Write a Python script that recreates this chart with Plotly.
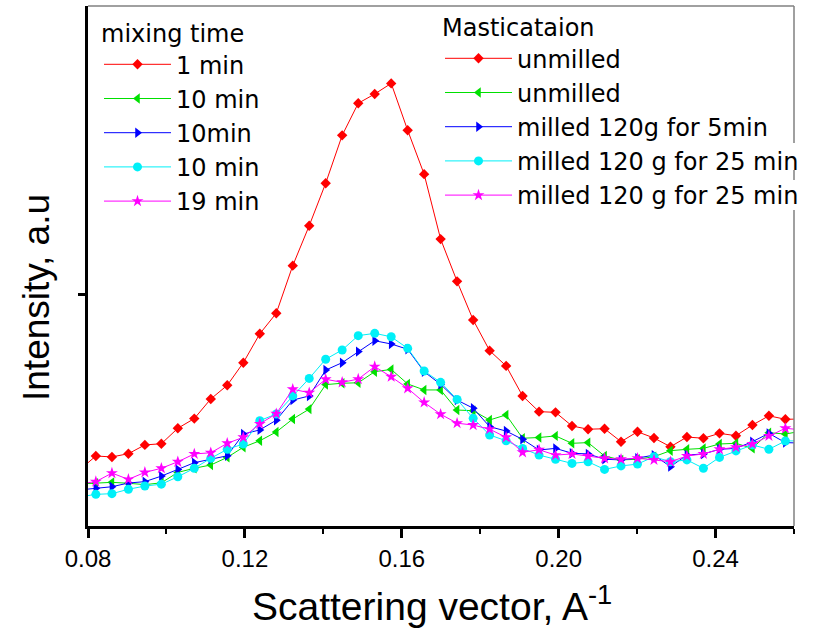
import plotly.graph_objects as go

# Scattering vector (A^-1)
q = [0.0778, 0.0820, 0.0861, 0.0903, 0.0945, 0.0987, 0.1029, 0.1071, 0.1113,
     0.1155, 0.1196, 0.1238, 0.1280, 0.1322, 0.1364, 0.1406, 0.1448, 0.1489,
     0.1531, 0.1573, 0.1615, 0.1657, 0.1699, 0.1741, 0.1782, 0.1824, 0.1866,
     0.1908, 0.1950, 0.1992, 0.2034, 0.2075, 0.2117, 0.2159, 0.2201, 0.2243,
     0.2285, 0.2327, 0.2369, 0.2410, 0.2452, 0.2494, 0.2536, 0.2578, 0.2620]

# Intensity (a.u.) for each sample
i_red = [24.2, 30.3, 29.9, 31.3, 35.1, 35.6, 42.3, 46.5, 55.0, 60.9, 70.7,
         83.2, 92.1, 112.7, 130.0, 148.4, 169.1, 183.0, 187.0, 191.6, 171.3,
         152.3, 124.2, 105.9, 89.2, 75.9, 69.3, 56.3, 49.5, 49.2, 43.3, 41.9,
         42.1, 36.5, 40.8, 38.1, 34.3, 38.5, 38.0, 40.1, 39.1, 43.7, 47.7,
         46.2, 46.3]
i_green = [18.2, 18.5, 18.9, 18.5, 17.9, 18.7, 23.2, 25.0, 26.4, 29.7, 34.1,
           36.9, 40.7, 46.3, 50.6, 61.2, 61.8, 62.0, 66.8, 67.8, 61.5, 58.9,
           58.9, 50.2, 49.9, 45.9, 48.1, 38.0, 38.3, 39.0, 35.8, 36.1, 30.3,
           28.6, 28.9, 30.0, 32.6, 33.2, 33.6, 35.5, 35.8, 33.6, 40.4, 39.8,
           41.1]
i_blue = [15.6, 16.3, 17.0, 18.6, 19.2, 21.6, 24.5, 27.4, 28.9, 30.4, 39.8,
          41.6, 45.8, 54.5, 56.3, 67.5, 70.7, 75.5, 80.2, 78.8, 76.5, 66.8,
          61.3, 54.5, 51.0, 43.0, 41.1, 37.5, 32.9, 33.6, 31.5, 31.2, 28.9,
          28.6, 29.4, 30.7, 25.7, 30.7, 31.2, 33.2, 33.6, 36.5, 40.1, 36.1,
          35.9]
i_cyan = [12.6, 13.7, 14.0, 15.9, 17.3, 18.1, 21.3, 25.0, 29.3, 33.2, 35.5,
          45.6, 48.5, 56.3, 63.9, 72.2, 76.2, 82.4, 83.4, 81.9, 76.9, 67.1,
          62.2, 54.8, 46.6, 39.4, 36.9, 33.6, 30.7, 28.9, 27.1, 27.8, 24.5,
          26.0, 26.8, 30.0, 27.8, 28.6, 25.0, 29.7, 32.5, 35.1, 33.2, 36.8,
          36.9]
i_magenta = [18.2, 19.2, 22.9, 20.2, 23.2, 25.0, 27.8, 31.2, 31.7, 35.8, 38.4,
             44.2, 48.6, 59.2, 57.7, 63.5, 62.2, 63.6, 69.0, 64.6, 59.6, 53.5,
             48.4, 44.5, 43.7, 41.9, 38.4, 31.9, 33.0, 30.7, 31.2, 30.3, 29.3,
             28.9, 29.3, 28.6, 27.8, 30.3, 31.2, 33.2, 34.1, 35.5, 39.0, 42.3,
             41.6]

series = [i_red, i_green, i_blue, i_cyan, i_magenta]
mixing_labels = ["1 min", "10 min", "10min", "10 min", "19 min"]
mastication_labels = ["unmilled", "unmilled", "milled 120g for 5min",
                      "milled 120 g for 25 min", "milled 120 g for 25 min"]
colors = ["#FF0000", "#00E000", "#0000FF", "#00F0F8", "#FF00FF"]
symbols = ["diamond", "triangle-left", "triangle-right", "circle", "star"]
sizes = [8, 9, 9, 9, 9]

SANS = "Liberation Sans, Arial, sans-serif"
LEGEND_FONT = dict(family="DejaVu Sans, Arial, sans-serif", size=24, color="black")

W, H = 826, 632
L, R, T, B = 88, 32, 6, 106


def px_x(p):
    return (p - L) / (W - L - R)


def px_y(p):
    return (H - B - p) / (H - T - B)


fig = go.Figure()

for ys, name, c, s, sz in zip(series, mixing_labels, colors, symbols, sizes):
    fig.add_trace(go.Scatter(
        x=q, y=ys, name=name, mode="lines+markers", legend="legend",
        line=dict(color=c, width=1),
        marker=dict(symbol=s, size=sz, color=c, line=dict(width=0)),
    ))

# second key: same styles, listed under the mastication conditions
for name, c, s, sz in zip(mastication_labels, colors, symbols, sizes):
    fig.add_trace(go.Scatter(
        x=[None], y=[None], name=name, mode="lines+markers", legend="legend2",
        line=dict(color=c, width=1),
        marker=dict(symbol=s, size=sz, color=c, line=dict(width=0)),
        hoverinfo="skip",
    ))

frame = dict(color="#808080", width=1.5)
shapes = [
    dict(type="line", xref="paper", yref="paper", x0=0, x1=1, y0=1, y1=1, line=frame),
    dict(type="line", xref="paper", yref="paper", x0=1, x1=1, y0=0, y1=px_y(210), line=frame),
    dict(type="line", xref="paper", yref="paper", x0=1, x1=1, y0=px_y(180), y1=px_y(170), line=frame),
    dict(type="line", xref="paper", yref="paper", x0=1, x1=1, y0=px_y(143), y1=1, line=frame),
]

annotations = [
    dict(text="Scattering vector, A<sup>-1</sup>", xref="paper", yref="paper",
         x=px_x(432), y=px_y(603), showarrow=False, xanchor="center", yanchor="middle",
         font=dict(family=SANS, size=39, color="black")),
    dict(text="Intensity, a.u", xref="paper", yref="paper", textangle=-90,
         x=px_x(36), y=px_y(298), showarrow=False, xanchor="center", yanchor="middle",
         font=dict(family=SANS, size=37, color="black")),
]

fig.update_layout(
    width=W, height=H,
    margin=dict(l=L, r=R, t=T, b=B, autoexpand=False),
    paper_bgcolor="white", plot_bgcolor="white",
    shapes=shapes, annotations=annotations,
    xaxis=dict(
        range=[0.08, 0.26], tick0=0.08, dtick=0.04, tickformat=".2f",
        ticks="outside", ticklen=9, tickwidth=2.5, tickcolor="black",
        showline=True, linecolor="black", linewidth=3,
        showgrid=False, zeroline=False,
        tickfont=dict(family=SANS, size=24, color="black"),
        minor=dict(tick0=0.08, dtick=0.02, ticks="outside", ticklen=5,
                   tickwidth=2, tickcolor="black", showgrid=False),
    ),
    yaxis=dict(
        range=[0, 225.1], tickvals=[100], showticklabels=False,
        ticks="outside", ticklen=7, tickwidth=3, tickcolor="black",
        showline=True, linecolor="black", linewidth=3,
        showgrid=False, zeroline=False,
    ),
    legend=dict(
        xref="paper", yref="paper", x=px_x(99), y=px_y(11),
        xanchor="left", yanchor="top", bgcolor="rgba(0,0,0,0)", borderwidth=0,
        font=LEGEND_FONT, title=dict(text="mixing time", font=LEGEND_FONT),
        itemwidth=67, tracegroupgap=0,
    ),
    legend2=dict(
        xref="paper", yref="paper", x=px_x(440), y=px_y(5),
        xanchor="left", yanchor="top", bgcolor="rgba(0,0,0,0)", borderwidth=0,
        font=LEGEND_FONT, title=dict(text="Masticataion", font=LEGEND_FONT),
        itemwidth=67, tracegroupgap=0,
    ),
)

fig.write_html("out.html")
